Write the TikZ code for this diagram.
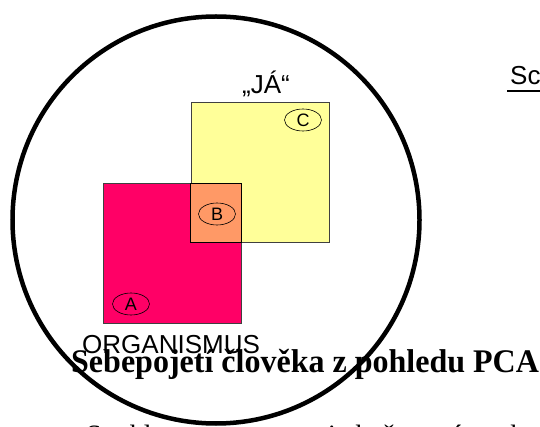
\documentclass[tikz,border=0pt]{standalone}
\usepackage{fontspec}
\setmainfont{Liberation Serif}
\setsansfont{Liberation Sans}
\usetikzlibrary{positioning,shapes.geometric}
\definecolor{organ}{HTML}{FF0066}
\definecolor{selfc}{HTML}{FFFF99}
\definecolor{congr}{HTML}{FF9966}
\tikzset{
  area/.style={draw=black!75, line width=0.8pt, minimum width=138pt,
               minimum height=140pt, inner sep=0pt},
  tag/.style={ellipse, draw, line width=0.6pt, minimum width=37pt,
              minimum height=22pt, inner sep=0pt,
              font=\sffamily\fontsize{18}{18}\selectfont},
  sanstext/.style={font=\sffamily\fontsize{26}{26}\selectfont, inner sep=0pt},
  headline/.style={font=\bfseries\fontsize{33}{33}\selectfont, inner sep=0pt},
}

\begin{document}
\begin{tikzpicture}[x=1pt,y=-1pt]
  \clip (0,0) rectangle (540,427);
  \fill[white] (0,0) rectangle (540,427);

  % organismus and self squares
  \node[area, fill=organ] (org) at (172,253.5) {};
  \node[area, fill=selfc] (ja)  at (260,172) {};
  \fill[congr] (ja.west |- org.north) rectangle (org.east |- ja.south);
  \draw[line width=0.8pt] (ja.west |- org.north) rectangle (org.east |- ja.south);

  \node[tag] (c) at (303,120) {C};
  \node[tag] (b) at (217,214) {B};
  \node[tag] (a) at (131,304) {A};

  \node[sanstext, anchor=base] (jalbl) at (266,94) {„JÁ“};
  \node[sanstext, anchor=base west] (orglbl) at (82,353) {ORGANISMUS};

  % phenomenal field
  \node[circle, draw, line width=4.5pt, minimum size=407pt, inner sep=0pt]
       (field) at (216,220) {};

  \node[headline, anchor=base west, xscale=0.97] (title) at (71,372)
       {Sebepojetí člověka z pohledu PCA};
  \node[font=\fontsize{28}{28}\selectfont, inner sep=0pt, anchor=base west]
       (sub) at (86,444) {Souhlas a rozpor mezi zkušeností a sebepojetím};
  \node[sanstext, anchor=base west] (scheme) at (510,85) {Schéma};
  \draw[line width=2pt] ([yshift=-6pt,xshift=-3pt]scheme.base west)
       -- ([yshift=-6pt]scheme.base east);
\end{tikzpicture}
\end{document}
